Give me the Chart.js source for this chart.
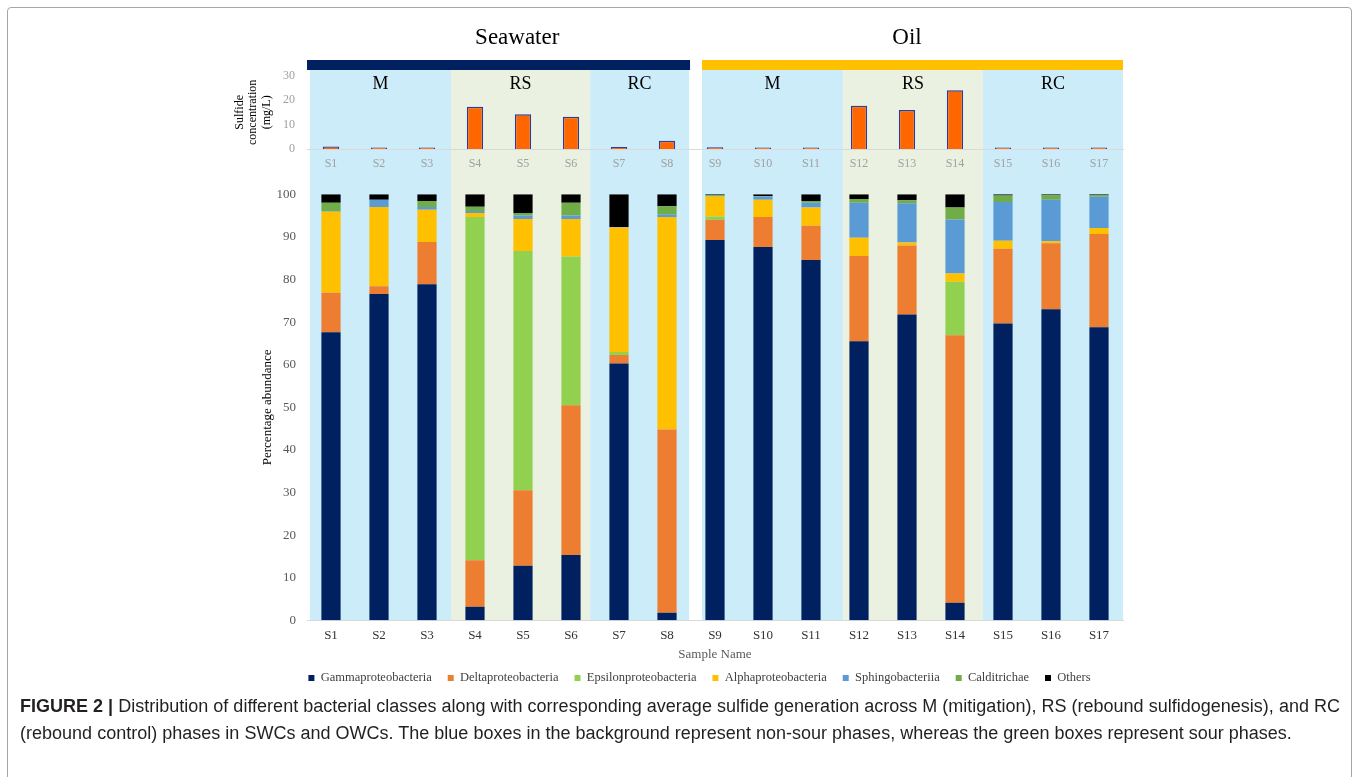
<!DOCTYPE html>
<html>
<head>
<meta charset="utf-8">
<title>Bacterial classes and sulfide generation</title>
<script src="https://cdn.jsdelivr.net/npm/chart.js@4.4.1/dist/chart.umd.min.js"></script>
<style>
  html, body { margin: 0; padding: 0; background: #fff; }
  #fig { position: relative; width: 1357px; height: 777px; overflow: hidden; }
  #frame { position: absolute; left: 7px; top: 7px; width: 1343px; height: 800px; border: 1px solid #a6a6a6; border-radius: 4px; }
  #abundance, #sulfide { position: absolute; left: 0; top: 0; }
  #sulfide { z-index: 2; }
  .txt { position: absolute; z-index: 3; white-space: nowrap; font-family: "Liberation Serif", "Times New Roman", serif; color: #000; line-height: 1; transform: translateX(-50%); }
  .group { font-size: 23px; top: 25px; }
  .phase { font-size: 18px; top: 73.5px; }
  #caption { position: absolute; left: 20px; top: 693px; font-family: "Liberation Sans", Arial, sans-serif; font-size: 18px; line-height: 27px; color: #231f20; white-space: nowrap; }
  #caption span { display: inline-block; }
</style>
</head>
<body>
<div id="fig">
  <div id="frame"></div>
  <canvas id="abundance" width="1357" height="700"></canvas>
  <canvas id="sulfide" width="1357" height="180"></canvas>
  <div id="caption"><span id="cap1"><b>FIGURE 2 |</b> Distribution of different bacterial classes along with corresponding average sulfide generation across M (mitigation), RS (rebound sulfidogenesis), and RC</span><br><span id="cap2">(rebound control) phases in SWCs and OWCs. The blue boxes in the background represent non-sour phases, whereas the green boxes represent sour phases.</span></div>
</div>
<script>
// samples and values
const samples = ['S1', 'S2', 'S3', 'S4', 'S5', 'S6', 'S7', 'S8', 'S9', 'S10', 'S11', 'S12', 'S13', 'S14', 'S15', 'S16', 'S17'];
const sulfide = [1.0, 0.3, 0.3, 17.3, 14.2, 13.2, 0.8, 3.4, 0.7, 0.4, 0.4, 17.7, 16.0, 24.0, 0.2, 0.2, 0.2];

const classNames = ['Gammaproteobacteria', 'Deltaproteobacteria', 'Epsilonproteobacteria', 'Alphaproteobacteria', 'Sphingobacteriia', 'Calditrichae', 'Others'];
const gamma   = [67.6, 76.6, 78.9, 3.2, 12.8, 15.3, 60.3, 1.8, 89.3, 87.6, 84.6, 65.5, 71.8, 4.1, 69.7, 73.0, 68.8];
const delta   = [9.3, 1.8, 9.9, 10.9, 17.7, 35.2, 2.0, 43.0, 4.7, 7.1, 8.0, 20.0, 16.2, 62.8, 17.5, 15.5, 21.9];
const epsilon = [0, 0, 0, 80.6, 56.2, 34.9, 0.7, 0, 0.8, 0, 0, 0, 0, 12.6, 0, 0, 0];
const alpha   = [19.0, 18.6, 7.6, 0.9, 7.5, 8.8, 29.2, 49.9, 4.7, 4.0, 4.3, 4.3, 0.7, 1.9, 1.9, 0.5, 1.4];
const sphingo = [0.1, 1.7, 0.6, 0.5, 0.8, 0.8, 0.1, 0.6, 0, 0.8, 1.1, 8.2, 9.2, 12.7, 9.1, 9.7, 7.3];
const caldi   = [2.0, 0, 1.4, 1.0, 0.6, 3.0, 0, 1.9, 0.3, 0.1, 0.4, 0.9, 0.7, 2.8, 1.5, 1.1, 0.4];
const others  = [2.0, 1.3, 1.6, 2.9, 4.4, 2.0, 7.7, 2.8, 0.2, 0.4, 1.6, 1.1, 1.4, 3.1, 0.3, 0.2, 0.2];

// groups and phases (index of first / last sample)
const groupNames = ['Seawater', 'Oil'];
const groupFirst = [0, 8];
const groupLast = [7, 16];
const phaseNames = ['M', 'RS', 'RC', 'M', 'RS', 'RC'];
const phaseFirst = [0, 3, 6, 8, 11, 14];
const phaseLast = [2, 5, 7, 10, 13, 16];
const phaseSour = [false, true, false, false, true, false];

const classSeries = [gamma, delta, epsilon, alpha, sphingo, caldi, others];
const classColors = ['#002060', '#ED7D31', '#92D050', '#FFC000', '#5B9BD5', '#70AD47', '#000000'];
const groupColors = ['#002060', '#FFC000'];

// the hand drawn boxes don't sit exactly on category edges (in category units)
const phaseNudge = [[0.06, 0], [0, -0.1], [-0.1, -0.04], [0.23, 0.17], [0.17, 0.08], [0.08, 0]];
const groupNudge = [[0, -0.02], [0.23, 0]];
const groupTitleShift = [0.38, 0];
const boxTop = 70;
const barTop = 60;

Chart.defaults.font.family = '"Liberation Serif", "Times New Roman", serif';

// labels for groups and phases
const fig = document.getElementById('fig');
const groupEls = groupNames.map(name => {
  const el = document.createElement('div');
  el.className = 'txt group';
  el.textContent = name;
  fig.appendChild(el);
  return el;
});
const phaseEls = phaseNames.map(name => {
  const el = document.createElement('div');
  el.className = 'txt phase';
  el.textContent = name;
  fig.appendChild(el);
  return el;
});

const phaseBoxes = {
  id: 'phaseBoxes',
  beforeDraw(chart) {
    const { ctx, chartArea, scales: { x } } = chart;
    const px = v => x.getPixelForValue(v);
    ctx.save();
    phaseNames.forEach((name, i) => {
      const l = px(phaseFirst[i] - 0.5 + phaseNudge[i][0]);
      const r = px(phaseLast[i] + 0.5 + phaseNudge[i][1]);
      ctx.fillStyle = phaseSour[i] ? '#EBF1E0' : '#CCECFA';
      ctx.fillRect(l, boxTop, r - l, chartArea.bottom - boxTop);
      phaseEls[i].style.left = ((l + r) / 2) + 'px';
    });
    groupNames.forEach((name, i) => {
      const l = px(groupFirst[i] - 0.5 + groupNudge[i][0]);
      const r = px(groupLast[i] + 0.5 + groupNudge[i][1]);
      ctx.fillStyle = groupColors[i];
      ctx.fillRect(l, barTop, r - l, boxTop - barTop);
      groupEls[i].style.left = px((groupFirst[i] + groupLast[i]) / 2 + groupTitleShift[i]) + 'px';
    });
    ctx.restore();
  }
};

// Biểu đồ dưới: thành phần vi khuẩn
const abundanceChart = new Chart(document.getElementById('abundance'), {
  type: 'bar',
  data: {
    labels: samples,
    datasets: classNames.map((name, i) => ({
      label: name,
      data: classSeries[i],
      backgroundColor: classColors[i],
      borderWidth: 0,
      barPercentage: 0.4,
      categoryPercentage: 1
    }))
  },
  options: {
    responsive: false,
    animation: false,
    layout: { padding: { top: 194.3, left: 276, right: 234, bottom: 5.75 } },
    scales: {
      x: {
        stacked: true,
        grid: { display: false, drawTicks: false },
        border: { display: true, color: '#d9d9d9' },
        ticks: { color: '#333333', font: { size: 13 }, padding: 7 },
        title: { display: true, text: 'Sample Name', color: '#595959', font: { size: 13 }, padding: { top: 0, bottom: -7 } },
        afterFit: s => { s.height = 35.45; }
      },
      y: {
        stacked: true,
        min: 0,
        max: 100,
        grid: { display: false, drawTicks: false },
        border: { display: false },
        ticks: { stepSize: 10, color: '#595959', font: { size: 13 }, padding: 11 },
        title: { display: true, text: 'Percentage abundance', color: '#000', font: { size: 13 }, padding: { top: -16.3, bottom: 0 } },
        afterFit: s => { s.width = 31; }
      }
    },
    plugins: {
      legend: {
        position: 'bottom',
        labels: { boxWidth: 6, boxHeight: 6, padding: 16, color: '#404040', font: { size: 12.5 } }
      },
      tooltip: { enabled: false }
    }
  },
  plugins: [phaseBoxes]
});

// Biểu đồ trên: nồng độ sulfide
const sulfideChart = new Chart(document.getElementById('sulfide'), {
  type: 'bar',
  data: {
    labels: samples,
    datasets: [{
      label: 'Sulfide concentration (mg/L)',
      data: sulfide,
      backgroundColor: '#FF6600',
      borderColor: '#2F3C8F',
      borderWidth: 1.5,
      minBarLength: 1.5,
      barPercentage: 0.34,
      categoryPercentage: 1
    }]
  },
  options: {
    responsive: false,
    animation: false,
    layout: { padding: { top: 75.7, left: 220, right: 234, bottom: 6 } },
    scales: {
      x: {
        grid: { display: false, drawTicks: false },
        border: { display: true, color: '#d9d9d9' },
        ticks: { color: '#a0a0a0', font: { size: 12 }, padding: 8 },
        afterFit: s => { s.height = 25; }
      },
      y: {
        min: 0,
        max: 30,
        grid: { display: false, drawTicks: false },
        border: { display: false },
        ticks: { stepSize: 10, color: '#a0a0a0', font: { size: 12 }, padding: 12 },
        title: { display: true, text: ['Sulfide', 'concentration', '(mg/L)'], color: '#000', font: { size: 12, lineHeight: 1.1 }, padding: { top: 13.4, bottom: 0 } },
        afterFit: s => { s.width = 87; }
      }
    },
    plugins: {
      legend: { display: false },
      tooltip: { enabled: false }
    }
  }
});

// fit the caption so the first line spans like the original
const cap1 = document.getElementById('cap1');
const cap2 = document.getElementById('cap2');
const w1 = cap1.getBoundingClientRect().width;
const ls = (1320 - w1) / cap1.textContent.length;
cap1.style.letterSpacing = ls + 'px';
cap2.style.letterSpacing = ls + 'px';
</script>
</body>
</html>
